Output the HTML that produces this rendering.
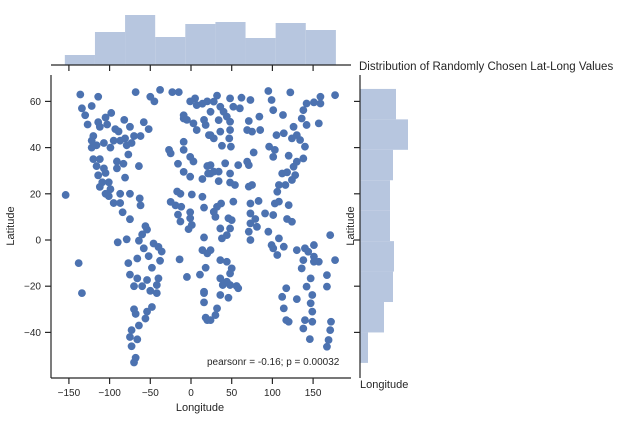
<!DOCTYPE html>
<html><head><meta charset="utf-8"><style>
body{margin:0;background:#fff;width:632px;height:420px;overflow:hidden}
svg text{font-family:"Liberation Sans",sans-serif;fill:#262626}
</style></head><body>
<svg id="c" width="632" height="420" xmlns="http://www.w3.org/2000/svg">
<g id="marks"></g>
<g id="axes" stroke="#262626" stroke-width="1.2" fill="none">
<line x1="51" y1="75" x2="51" y2="378"/>
<line x1="51" y1="378" x2="351" y2="378"/>
<line x1="51" y1="65" x2="351" y2="65"/>
<line x1="360" y1="75" x2="360" y2="378"/>
</g>
<text x="359" y="70" font-size="11.5">Distribution of Randomly Chosen Lat-Long Values</text>
<text x="207" y="365" font-size="10">pearsonr = -0.16; p = 0.00032</text>
<text x="200" y="411" font-size="11" text-anchor="middle">Longitude</text>
<text transform="translate(14,226) rotate(-90)" font-size="11" text-anchor="middle">Latitude</text>
<text transform="translate(354,226) rotate(-90)" font-size="11" text-anchor="middle">Latitude</text>
<text x="360" y="388" font-size="11">Longitude</text>
</svg>
<script>
const lons=[-136,-114,-68,-38,-23,-15,-50,-45,-134,-122,-130,-98,-127,-114,-105,-112,-103,-93,-82,-75,-58,-52,-89,-95,-87,-81,-70,-62,-120,-122,-116,-107,-99,-79,-73,-122,-77,-120,-112,-91,-83,-64,-116,-107,-91,-114,-105,-81,-109,-101,-112,-99,-87,-75,-105,-101,-95,-87,-63,-62,-84,-75,-154,-56,-54,-60,-79,-90,-64,-46,-40,-36,-58,-52,-66,-77,-38,-48,-138,-75,-66,-54,-40,-60,-70,-42,-50,-42,-134,-48,-54,-70,-68,-56,-64,-73,-75,-66,-73,-68,-70,-27,-25,-16,-9,-9,-1,3,-9,-1,14,-17,-13,1,14,-25,-19,-12,-1,16,-16,-13,-1,1,-3,16,14,20,18,11,-5,-14,16,16,16,18,20,-9,-5,3,7,-9,-1,5,7,14,20,16,18,22,20,21,
32,48,62,73,95,99,122,142,151,159,177,159,28,36,24,40,44,34,48,52,60,71,69,75,85,84,101,113,138,136,142,157,126,130,124,134,105,114,140,138,36,48,24,28,47,38,49,77,96,103,120,101,130,126,112,118,128,108,116,124,106,24,34,42,58,69,71,48,34,48,54,71,75,24,28,37,32,28,52,73,83,103,108,120,73,79,46,50,91,101,118,124,30,36,48,73,71,81,95,38,44,73,108,99,101,106,114,130,140,151,144,151,138,151,157,171,177,24,36,44,50,48,58,44,48,36,39,56,46,36,32,30,24,136,147,142,149,147,149,140,149,138,167,167,117,112,130,114,117,120,146,172,171,169,167];
const lats=[63,62,64,65,64,64,62,60,57,58,54,55,50,51,53,49,50,48,52,49,51,48,47,43,43,44,45,45,45,43,41,42,40,41,42,40,37,35,35,34,33,32,32,31,31,28,29,27,25,25,23,22,20,20,20,19,16,16,18,15,12,9,19.5,6,4.5,2.4,0.3,-1,-0.3,-1.5,-3,-5,-3.6,-7,-8,-10,-9,-12,-10,-15,-16.6,-17.3,-16.6,-20,-20,-19.5,-22,-23,-23,-29,-31,-30,-32,-34,-37,-39,-42,-43,-46,-51,-53,39,37.5,33,42.5,39,36,34,29.5,27.4,26.4,21,20,19.7,18.7,16.5,15,14.4,12,14,11,8,9.4,6.5,4.7,1.1,-4.4,-5.8,-12,-15,-16,-8.4,-22.4,-23,-27,-33.6,-34.7,54,52,50.5,47.6,52.6,60,61.3,58.4,59,60,52,49.8,45.4,32,28.8,
62.5,61.3,61.6,60.6,64.5,60.6,63.9,59.1,59.6,62,62.7,59.1,59.9,57.7,55.5,55.5,53.4,51.9,51.2,57.7,57,51.5,47.6,46.9,47.6,53.4,56.2,54.1,56.2,52.6,49.8,50.5,49,45.4,44,43.3,45.4,46.2,40.4,35.3,46.9,47.6,45.4,44,44,40.8,40.4,37.9,40.4,39,36.5,36,33.9,31.7,28.8,29.3,28.1,23.8,23.8,26,20.9,32.4,29.6,33.2,32.4,33.9,32.4,28.8,25.5,24.9,23.8,23.1,23.8,28.8,29.6,15.8,14.4,12.2,16.6,15.8,16.9,15.8,16.6,15.1,11.5,9.1,9.4,8.6,11.5,10.8,9.1,7.9,10,5,5,7.2,3.6,5.7,3.6,0.7,2.1,0,0.7,-2.2,-3.6,-6.5,-2.9,-4.4,-3.6,-2.2,-5.1,-7.2,-8.7,-9.4,-9.4,2.1,-8.7,-4.4,-8.7,-9.4,-12.3,-14.5,-20.9,-18.1,-19.5,-16.6,-19.5,-19.9,-25,-23.8,-29.6,-32.5,-34.7,-12.3,-16.6,-20.2,-23.8,-27.4,-31,-34.7,-35.4,-38.3,-15.2,-20.2,-20.9,-24.6,-25.6,-29.6,-34.7,-35.4,-42.9,-35.4,-39,-43.3,-46.2];
const lonCounts=[10,33,50,28,41,43,27,42,35];
const latCounts=[36,48,33,30,30,34,33,24,8];
const lonTicks=[-150,-100,-50,0,50,100,150];
const latTicks=[-40,-20,0,20,40,60];
const lonMin=-155, lonMax=178, latMax=65.4, latMin=-53.2;
const NS='http://www.w3.org/2000/svg';
const X=v=>191+v*0.814;
const Y=v=>240-v*2.31;
const svg=document.getElementById('c');
const marks=document.getElementById('marks');
function mk(t,a){const e=document.createElementNS(NS,t);for(const k in a)e.setAttribute(k,a[k]);return e;}
const bw=(lonMax-lonMin)/lonCounts.length;
lonCounts.forEach((c,i)=>{
 const x0=X(lonMin+i*bw),x1=X(lonMin+(i+1)*bw);
 const r=mk('rect',{x:x0,y:65-c,width:x1-x0,height:c,fill:'#b7c6df'});
 
 
 marks.appendChild(r);
});
const bh=(latMax-latMin)/latCounts.length;
latCounts.forEach((c,i)=>{
 const y0=Y(latMax-i*bh),y1=Y(latMax-(i+1)*bh);
 const r=mk('rect',{x:360,y:y0,width:c,height:y1-y0,fill:'#b7c6df'});
 
 
 marks.appendChild(r);
});
lons.forEach((lo,i)=>{
 const p=mk('circle',{cx:X(lo),cy:Y(lats[i]),r:3.9,fill:'#4c72b0'});
 
 
 marks.appendChild(p);
});
const ax=document.getElementById('axes');
lonTicks.forEach(t=>{
 ax.appendChild(mk('line',{x1:X(t),x2:X(t),y1:378,y2:384}));
 ax.appendChild(mk('line',{x1:X(t),x2:X(t),y1:65,y2:71}));
 const tx=mk('text',{x:X(t),y:396,'font-size':10,'text-anchor':'middle'});
 tx.textContent=t<0?'\u2212'+(-t):t;
 
 
 svg.appendChild(tx);
});
latTicks.forEach(t=>{
 ax.appendChild(mk('line',{x1:45,x2:51,y1:Y(t),y2:Y(t)}));
 ax.appendChild(mk('line',{x1:354,x2:360,y1:Y(t),y2:Y(t)}));
 const tx=mk('text',{x:41,y:Y(t)+3.5,'font-size':10,'text-anchor':'end'});
 tx.textContent=t<0?'\u2212'+(-t):t;
 
 
 svg.appendChild(tx);
});
</script>
</body></html>
